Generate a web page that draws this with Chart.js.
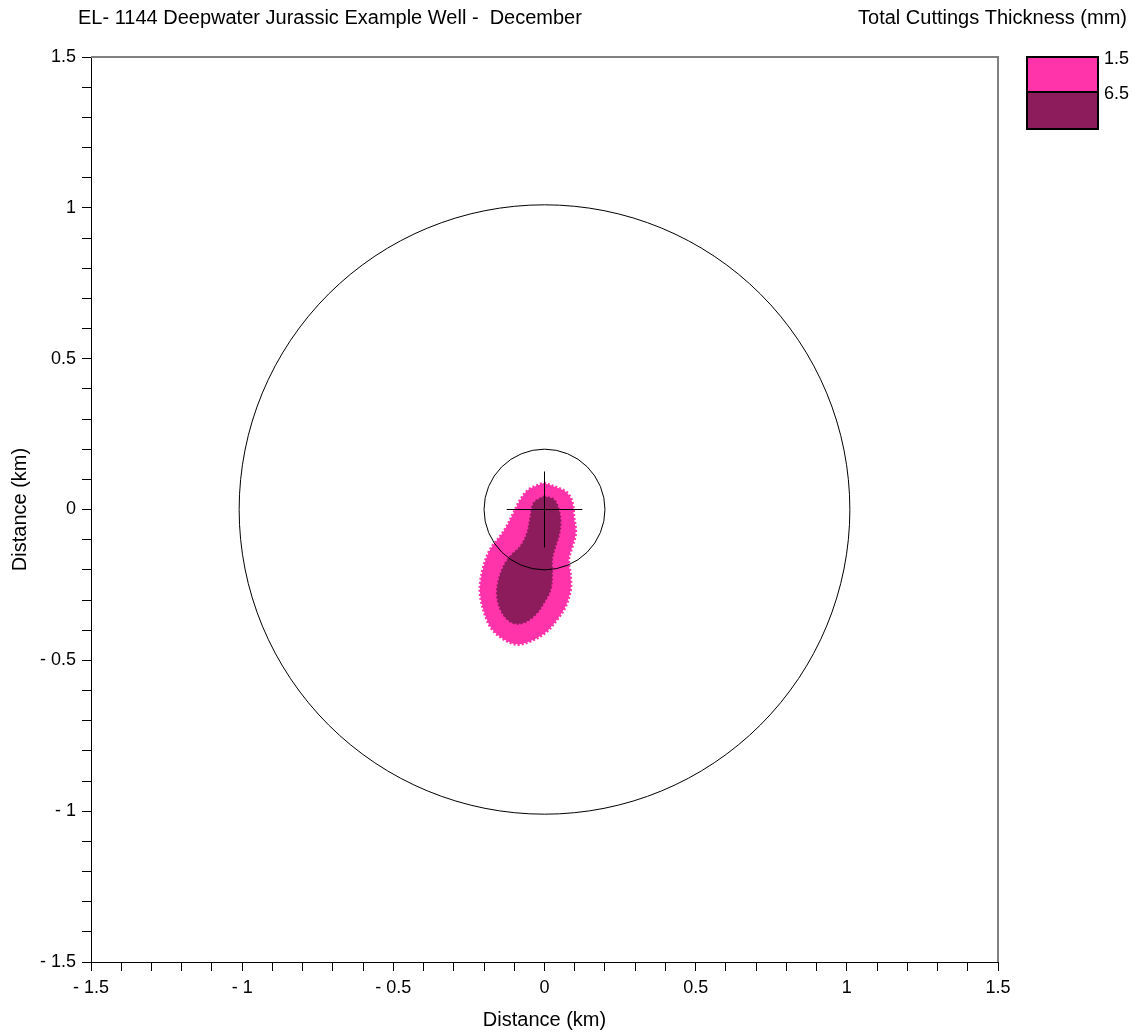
<!DOCTYPE html>
<html>
<head>
<meta charset="utf-8">
<script src="https://cdn.jsdelivr.net/npm/chart.js@4/dist/chart.umd.min.js"></script>
<style>
  html, body { margin: 0; padding: 0; background: #ffffff; }
  #wrap { width: 1140px; height: 1033px; }
</style>
</head>
<body>
<div id="wrap"><canvas id="c" width="1140" height="1033"></canvas></div>
<script>
// ---- Data (km) ----
const chartTitle = "EL- 1144 Deepwater Jurassic Example Well -  December";
const legendTitle = "Total Cuttings Thickness (mm)";
const axisTitle = "Distance (km)";
const legendLabels = ["1.5", "6.5"];
const legendColors = ["#FF33AA", "#8C1C5C"];

// 1.5 mm contour (outer)
const contourOuter = [
  [-0.002, 0.088], [0.042, 0.072], [0.075, 0.055], [0.092, 0.022], [0.097, -0.022],
  [0.103, -0.077], [0.092, -0.122], [0.080, -0.166], [0.086, -0.221], [0.086, -0.265],
  [0.070, -0.320], [0.042, -0.364], [0.003, -0.408], [-0.046, -0.436], [-0.090, -0.447],
  [-0.135, -0.430], [-0.173, -0.397], [-0.195, -0.353], [-0.212, -0.287], [-0.212, -0.243],
  [-0.201, -0.188], [-0.179, -0.132], [-0.146, -0.088], [-0.124, -0.055], [-0.102, -0.011],
  [-0.079, 0.033], [-0.052, 0.066], [-0.002, 0.088]
];
// 6.5 mm contour (inner)
const contourInner = [
  [-0.002, 0.044], [0.031, 0.033], [0.047, 0.000], [0.053, -0.044], [0.047, -0.088],
  [0.036, -0.122], [0.025, -0.166], [0.025, -0.221], [0.020, -0.265], [-0.002, -0.309],
  [-0.030, -0.348], [-0.069, -0.375], [-0.107, -0.375], [-0.140, -0.342], [-0.157, -0.287],
  [-0.151, -0.232], [-0.135, -0.188], [-0.113, -0.155], [-0.079, -0.122], [-0.057, -0.077],
  [-0.046, -0.022], [-0.035, 0.022], [-0.002, 0.044]
];
// Well-site crosshair
const crossH = [[-0.125, 0], [0.125, 0]];
const crossV = [[0, 0.125], [0, -0.125]];
// Reference circles (radius, km) centred on the well
const circleRadii = [1.01, 0.2];
const axisMin = -1.5, axisMax = 1.5, tickStep = 0.1;

const toXY = arr => arr.map(p => ({x: p[0], y: p[1]}));
const FONT = "'Liberation Sans', Arial, sans-serif";

function fmtTick(v) {
  const r = Math.round(v * 10);
  if (r % 5 !== 0) return '';
  const val = r / 10;
  if (val < 0) return '- ' + String(-val);
  return String(val);
}

const decor = {
  id: 'decor',
  afterDatasetsDraw(chart) {
    const {ctx, chartArea, scales} = chart;
    const xs = scales.x, ys = scales.y;
    ctx.save();
    const cx = xs.getPixelForValue(0), cy = ys.getPixelForValue(0);
    ctx.strokeStyle = '#000';
    ctx.lineWidth = 1;
    circleRadii.forEach(r => {
      const rx = xs.getPixelForValue(r) - cx;
      const ry = cy - ys.getPixelForValue(r);
      ctx.beginPath();
      ctx.ellipse(cx, cy, rx, ry, 0, 0, Math.PI * 2);
      ctx.stroke();
    });
    ctx.strokeStyle = '#808080';
    ctx.lineWidth = 2;
    ctx.beginPath();
    ctx.moveTo(chartArea.left, chartArea.top);
    ctx.lineTo(chartArea.right, chartArea.top);
    ctx.lineTo(chartArea.right, chartArea.bottom);
    ctx.stroke();
    ctx.restore();
  },
  afterDraw(chart) {
    const {ctx} = chart;
    ctx.save();
    ctx.fillStyle = '#000';
    ctx.font = '20px ' + FONT;
    ctx.textBaseline = 'middle';
    ctx.textAlign = 'left';
    ctx.fillText(chartTitle, 78, 18);
    ctx.textAlign = 'right';
    ctx.fillText(legendTitle, 1127, 18);
    const bx = 1027, bw = 71, tops = [57, 92], bh = [35, 37];
    legendLabels.forEach((lab, i) => {
      ctx.fillStyle = legendColors[i];
      ctx.fillRect(bx, tops[i], bw, bh[i]);
    });
    ctx.strokeStyle = '#000';
    ctx.lineWidth = 2;
    ctx.strokeRect(bx, 57, bw, 72);
    ctx.beginPath();
    ctx.moveTo(bx, 92); ctx.lineTo(bx + bw, 92); ctx.stroke();
    ctx.fillStyle = '#000';
    ctx.textAlign = 'left';
    ctx.font = '18px ' + FONT;
    legendLabels.forEach((lab, i) => ctx.fillText(lab, 1104, tops[i] + 2));
    ctx.restore();
  }
};

const axisCommon = {
  type: 'linear',
  min: axisMin,
  max: axisMax,
  border: { display: true, color: '#000', width: 1 },
  grid: { drawOnChartArea: false, drawTicks: true, tickLength: 9, color: '#000', tickColor: '#000' },
  title: { display: true, text: axisTitle, color: '#000', font: { family: FONT, size: 20 } }
};

new Chart(document.getElementById('c'), {
  type: 'scatter',
  data: {
    datasets: [
      { type: 'line', data: toXY(crossH), borderColor: '#000', borderWidth: 1, pointRadius: 0, fill: false, order: 0 },
      { type: 'line', data: toXY(crossV), borderColor: '#000', borderWidth: 1, pointRadius: 0, fill: false, order: 0 },
      { type: 'line', data: toXY(contourInner), backgroundColor: legendColors[1], borderColor: legendColors[1],
        borderWidth: 2, borderDash: [2, 2], fill: 'shape', pointRadius: 0, tension: 0.35, order: 1 },
      { type: 'line', data: toXY(contourOuter), backgroundColor: legendColors[0], borderColor: legendColors[0],
        borderWidth: 3, borderDash: [2, 2], fill: 'shape', pointRadius: 0, tension: 0.35, order: 2 }
    ]
  },
  options: {
    responsive: false,
    animation: false,
    layout: { padding: { left: 0, right: 142, top: 57, bottom: 0 } },
    plugins: { legend: { display: false }, tooltip: { enabled: false }, title: { display: false } },
    scales: {
      x: Object.assign({}, axisCommon, {
        position: 'bottom',
        title: Object.assign({}, axisCommon.title, { padding: { top: 0, bottom: 1 } }),
        ticks: { stepSize: tickStep, autoSkip: false, maxRotation: 0, minRotation: 0, padding: 6,
                 color: '#000', font: { family: FONT, size: 18 }, callback: v => fmtTick(v) },
        afterFit: s => { s.height = 71; }
      }),
      y: Object.assign({}, axisCommon, {
        position: 'left',
        title: Object.assign({}, axisCommon.title, { padding: { top: 8, bottom: 0 } }),
        ticks: { stepSize: tickStep, autoSkip: false, padding: 6,
                 color: '#000', font: { family: FONT, size: 18 }, callback: v => fmtTick(v) },
        afterFit: s => { s.width = 91; }
      })
    }
  },
  plugins: [decor]
});
</script>
</body>
</html>
